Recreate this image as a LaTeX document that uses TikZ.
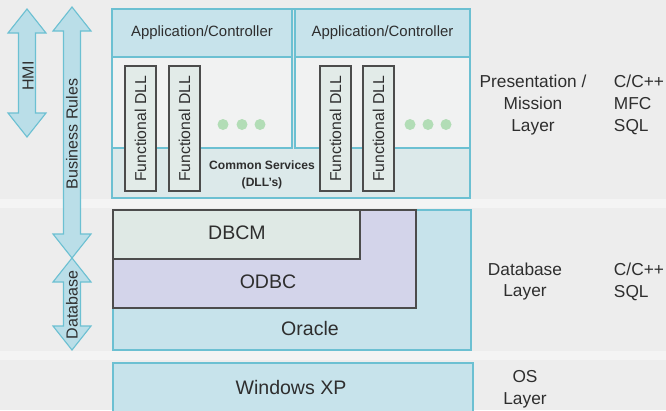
\documentclass[tikz,border=0pt]{standalone}
\usepackage{fontspec}
\setmainfont{Liberation Sans}
\usepackage{tikz}
\usetikzlibrary{positioning}

\definecolor{bgcol}{HTML}{EDEDED}
\definecolor{bandcol}{HTML}{F4F4F4}
\definecolor{tealline}{HTML}{6CC0D2}
\definecolor{hdrcol}{HTML}{C7E3EB}
\definecolor{bodycol}{HTML}{F1F2F2}
\definecolor{stripcol}{HTML}{DCE9EA}
\definecolor{dllcol}{HTML}{E2EBE8}
\definecolor{odbccol}{HTML}{D3D4EA}
\definecolor{dbcmcol}{HTML}{DFE9E5}
\definecolor{arrowcol}{HTML}{BADEE8}
\definecolor{dotcol}{HTML}{B2DDB6}
\definecolor{txtcol}{HTML}{2E2E2E}

\tikzset{
  bluebox/.style={draw=tealline, line width=0.8pt},
  greybox/.style={draw=black!70, line width=0.8pt},
  bigtxt/.style={text=txtcol, font=\fontsize{13.9}{16}\selectfont},
  hdrtxt/.style={text=txtcol, font=\fontsize{10.6}{12}\selectfont},
  dlltxt/.style={text=txtcol, rotate=90, font=\fontsize{11.2}{13}\selectfont},
  sidetxt/.style={text=txtcol, font=\fontsize{12.3}{15.6}\selectfont},
  arrowtxt/.style={text=txtcol, rotate=90, font=\fontsize{11.4}{13}\selectfont},
  dblarrow/.style={fill=arrowcol, draw=tealline, line width=0.8pt, line join=miter}
}

% double headed arrow: centre x, top y, bottom y
\newcommand{\layerarrow}[3]{%
  \draw[dblarrow] (#1,#2) -- (#1+19,#2+24) -- (#1+8.5,#2+24) -- (#1+8.5,#3-24)
    -- (#1+19,#3-24) -- (#1,#3) -- (#1-19,#3-24) -- (#1-8.5,#3-24)
    -- (#1-8.5,#2+24) -- (#1-19,#2+24) -- cycle;}

\begin{document}
\begin{tikzpicture}[x=0.025cm, y=-0.025cm]
  \useasboundingbox (0,0) rectangle (666,410);
  \fill[bgcol] (0,0) rectangle (666,410);
  \fill[bandcol] (0,199) rectangle (666,208);
  \fill[bandcol] (0,351) rectangle (666,360);

  % Presentation / Mission layer
  \draw[bluebox, fill=stripcol] (112,9) rectangle (470,198);
  \foreach \l/\r/\n in {112/292/one,295/470/two}
  {
    \draw[bluebox, fill=bodycol] (\l,57) rectangle (\r,148);
    \draw[bluebox, fill=hdrcol] (\l,9) rectangle (\r,57);
    \node[hdrtxt] (app\n) at ({(\l+\r)/2},33) {Application/Controller};
  }
  \node[text=txtcol, align=center, font=\fontsize{8.6}{12}\selectfont\bfseries]
    (common) at (262,174.5) {Common Services\\(DLL's)};
  \foreach \x/\n in {125/a,169/b,320/c,363/d}
  {
    \draw[greybox, fill=dllcol] (\x,66) rectangle (\x+31,191);
    \node[dlltxt] (dll\n) at (\x+15.5,129) {Functional DLL};
  }
  % dots
  \foreach \x in {223,242,260,410,428,446}
    \fill[dotcol] (\x,124.5) circle (5.5);

  % Database layer
  \draw[bluebox, fill=hdrcol] (113,210) rectangle (471,350);
  \draw[greybox, fill=odbccol] (113,210) rectangle (416,308);
  \draw[greybox, fill=dbcmcol] (113,210) rectangle (360,259);
  \node[bigtxt] (dbcm) at (237,233) {DBCM};
  \node[bigtxt] (odbc) at (268,282) {ODBC};
  \node[bigtxt] (oracle) at (310,329) {Oracle};

  % OS layer
  \draw[bluebox, fill=hdrcol] (113,363) rectangle (473,415);
  \node[bigtxt] (winxp) at (291,388) {Windows XP};

  % Layer names and languages
  \node[sidetxt, align=center] (preslayer) at (533,105) {Presentation /\\Mission\\Layer};
  \node[sidetxt, align=left, anchor=west] (preslang) at (609,105) {C/C++\\MFC\\SQL};
  \node[sidetxt, align=center] (dblayer) at (525,281.5) {Database\\Layer};
  \node[sidetxt, align=left, anchor=west] (dblang) at (609,281.5) {C/C++\\SQL};
  \node[sidetxt, align=center] (oslayer) at (525,389) {OS\\Layer};

  % Arrows on the left
  \layerarrow{27}{9}{137}
  \layerarrow{72}{7}{258}
  \layerarrow{72}{258}{350}
  \node[arrowtxt] (hmi) at (28,76) {HMI};
  \node[arrowtxt] (business) at (72,134) {Business Rules};
  \node[arrowtxt] (database) at (72,305) {Database};
\end{tikzpicture}
\end{document}
